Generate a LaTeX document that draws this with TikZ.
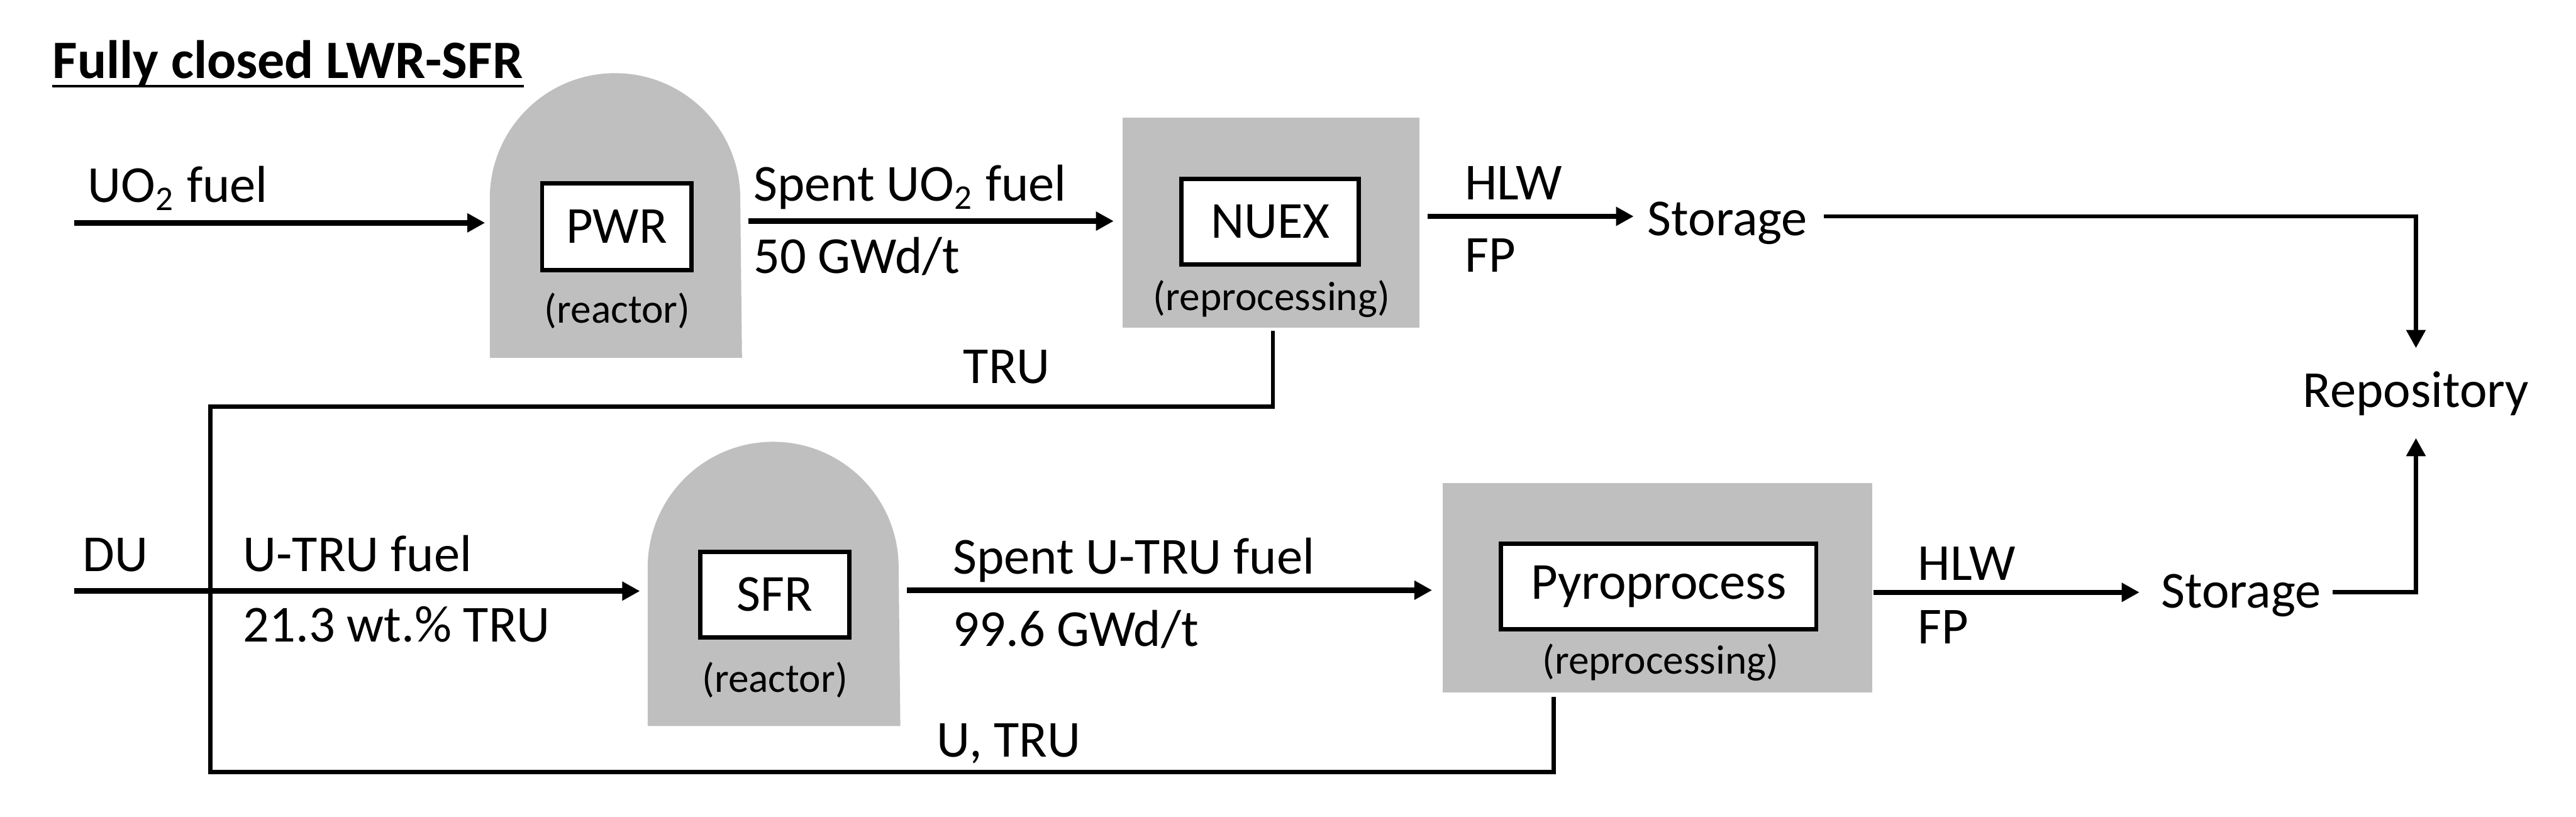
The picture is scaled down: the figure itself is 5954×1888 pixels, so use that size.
\documentclass[tikz,border=0pt]{standalone}
\usepackage{fontspec}
\setmainfont{Carlito}
\usetikzlibrary{arrows.meta,calc}
\definecolor{boxgray}{HTML}{BFBFBF}
\begin{document}
\begin{tikzpicture}[x=0.1pt,y=0.1pt,
  lab/.style={inner sep=0pt, anchor=base west, font=\fontsize{12}{14}\selectfont},
  sublab/.style={inner sep=0pt, anchor=base, font=\fontsize{9.5}{11}\selectfont},
  unitbox/.style={draw=black, line width=1pt, fill=white, inner sep=0pt, font=\fontsize{12}{14}\selectfont},
  domearea/.style={inner sep=0pt, draw=none},
  grayarea/.style={fill=boxgray, inner sep=0pt, draw=none},
  flow/.style={line width=1.25pt, -{Triangle[length=4.1pt,width=4.2pt]}},
  loopline/.style={line width=1pt},
  torepo/.style={line width=1pt, -{Triangle[length=4.2pt,width=4.3pt]}},
]
\useasboundingbox (0,0) rectangle (5954,-1888);

% title
\node[lab, font=\fontsize{12.5}{14}\selectfont\bfseries] (title) at (120,-181) {Fully closed LWR-SFR};
\draw[line width=0.7pt] ([yshift=-1.8pt]title.base west) -- ([yshift=-1.8pt]title.base east);

% PWR reactor
\node[domearea, minimum width=57.9pt, minimum height=65.4pt] (pwrD) at (1423.5,-498) {};
\fill[boxgray] (pwrD.south west) -- ([yshift=-28.95pt]pwrD.north west) arc[start angle=180, end angle=0, radius=28.95pt] -- (pwrD.south east) -- cycle;
\node[unitbox, minimum width=34.5pt, minimum height=20pt] (pwr) at (1425.5,-524) {PWR};
\node[sublab] (pwrsub) at (1427,-746) {(reactor)};

% SFR reactor
\node[domearea, minimum width=58pt, minimum height=65.3pt] (sfrD) at (1789,-1349.5) {};
\fill[boxgray] (sfrD.south west) -- ([yshift=-29pt]sfrD.north west) arc[start angle=180, end angle=0, radius=29pt] -- (sfrD.south east) -- cycle;
\node[unitbox, minimum width=34.4pt, minimum height=19.8pt] (sfr) at (1791,-1374) {SFR};
\node[sublab] (sfrsub) at (1791,-1600) {(reactor)};

% NUEX
\node[grayarea, minimum width=68.6pt, minimum height=48.5pt] (nuexG) at (2938,-514.5) {};
\node[unitbox, minimum width=41pt, minimum height=19.8pt] (nuex) at (2936,-512) {NUEX};
\node[sublab] (nuexsub) at (2939,-718) {(reprocessing)};

% Pyroprocess
\node[grayarea, minimum width=99.2pt, minimum height=48.4pt] (pyroG) at (3831,-1359) {};
\node[unitbox, minimum width=72.9pt, minimum height=19.7pt] (pyro) at (3833.5,-1355.5) {Pyroprocess};
\node[sublab] (pyrosub) at (3838,-1558) {(reprocessing)};

% labels
\node[lab] (uo2lab) at (201,-468) {UO\textsubscript{2} fuel};
\node[lab] (spent1) at (1740,-465) {Spent UO\textsubscript{2} fuel};
\node[lab] (burn1) at (1740,-631) {50 GWd/t};
\node[lab] (hlw1) at (3384,-461) {HLW};
\node[lab] (fp1) at (3384,-628) {FP};
\node[lab] (st1) at (3806,-545) {Storage};
\node[lab, anchor=base] (repo) at (5584,-941) {Repository};
\node[lab, anchor=base] (trulab) at (2327,-886) {TRU};
\node[lab] (du) at (189,-1320) {DU};
\node[lab] (utru) at (560,-1320) {U-TRU fuel};
\node[lab] (enr) at (560,-1484) {21.3 wt.\% TRU};
\node[lab] (spent2) at (2201,-1326) {Spent U-TRU fuel};
\node[lab] (burn2) at (2201,-1493) {99.6 GWd/t};
\node[lab] (hlw2) at (4431,-1341) {HLW};
\node[lab] (fp2) at (4431,-1487) {FP};
\node[lab] (st2) at (4993,-1405) {Storage};
\node[lab] (utrurec) at (2163,-1750) {U, TRU};

% level coordinates
\coordinate (uo2src) at (172,-515);
\coordinate (y1) at (0,-511);
\coordinate (y2) at (0,-500);
\coordinate (dusrc) at (172,-1366);
\coordinate (y3) at (0,-1364);
\coordinate (y4) at (0,-1369);
\coordinate (loopL) at (486,-940);
\coordinate (loopBL) at (486,-1784);
\coordinate (pyroOut) at ([xshift=-24pt,yshift=-0.7pt]pyroG.south);

% upper flow
\draw[flow, shorten >=1.1pt] (uo2src) -- (uo2src -| pwrD.west);
\draw[flow, shorten <=1.5pt, shorten >=1.9pt] (pwrD.east |- y1) -- (nuexG.west |- y1);
\draw[flow, shorten <=1.6pt, shorten >=3pt] (nuexG.east |- y2) -- (st1.west |- y2);
\draw[torepo, shorten <=3.6pt, shorten >=5.2pt] (st1.east |- y2) -| (repo.north);

% recycle loop
\draw[loopline, shorten <=0.6pt] ([xshift=0.4pt]nuexG.south) |- (loopL) -- (loopBL) -| (pyroOut);

% lower flow
\draw[flow, shorten >=1.8pt] (dusrc) -- (dusrc -| sfrD.west);
\draw[flow, shorten <=1.5pt, shorten >=2.3pt] (sfrD.east |- y3) -- (pyroG.west |- y3);
\draw[flow, shorten <=0.1pt, shorten >=4.8pt] (pyroG.east |- y4) -- (st2.west |- y4);
\draw[torepo, shorten <=2.5pt, shorten >=5pt] (st2.east |- y4) -| (repo.south);
\end{tikzpicture}
\end{document}
